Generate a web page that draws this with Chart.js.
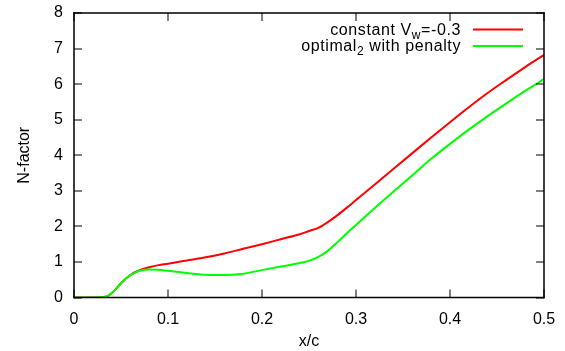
<!DOCTYPE html>
<html>
<head>
<meta charset="utf-8">
<script src="https://cdn.jsdelivr.net/npm/chart.js@4/dist/chart.umd.min.js"></script>
<style>
  html, body { margin: 0; padding: 0; background: #fff; overflow: hidden; }
  canvas { display: block; }
</style>
</head>
<body>
<canvas id="nplot" width="565" height="351"></canvas>
<script>
// x/c stations
const xc = [0, 0.02, 0.03, 0.035, 0.04, 0.045, 0.05, 0.055, 0.06, 0.065, 0.07, 0.08, 0.09, 0.1,
            0.12, 0.14, 0.16, 0.18, 0.2, 0.22, 0.24, 0.25, 0.26, 0.27, 0.28, 0.29, 0.3,
            0.32, 0.34, 0.36, 0.38, 0.4, 0.42, 0.44, 0.46, 0.48, 0.5];
// constant Vw=-0.3
const nConst = [0, 0, 0.01, 0.03, 0.12, 0.25, 0.4, 0.53, 0.63, 0.71, 0.77, 0.85, 0.91, 0.95,
                1.04, 1.13, 1.24, 1.37, 1.5, 1.64, 1.78, 1.87, 1.96, 2.12, 2.31, 2.52, 2.74,
                3.18, 3.62, 4.06, 4.5, 4.93, 5.35, 5.75, 6.12, 6.48, 6.82];
// optimal2 with penalty
const nOpt = [0, 0, 0.01, 0.03, 0.12, 0.25, 0.4, 0.53, 0.63, 0.7, 0.75, 0.79, 0.78, 0.75,
              0.69, 0.64, 0.63, 0.67, 0.77, 0.87, 0.97, 1.03, 1.14, 1.31, 1.55, 1.8, 2.04,
              2.52, 2.98, 3.44, 3.9, 4.32, 4.72, 5.1, 5.46, 5.81, 6.14];
const xTicks = [0, 0.1, 0.2, 0.3, 0.4, 0.5];
const yTicks = [0, 1, 2, 3, 4, 5, 6, 7, 8];

const FONT = 'Liberation Sans, Arial, sans-serif';

function pts(ys) {
  return xc.map((x, i) => ({ x: x, y: ys[i] }));
}

// no label overhang, so the layout padding alone places the plot box
function noOverhang(s) {
  s.paddingTop = 0; s.paddingBottom = 0; s.paddingLeft = 0; s.paddingRight = 0;
}

// gnuplot style frame: box border + inward ticks + legend with subscripts
const framePlugin = {
  id: 'frame',
  afterDraw(chart) {
    const ctx = chart.ctx;
    const xs = chart.scales.x, ys = chart.scales.y;
    const L = xs.getPixelForValue(0), R = xs.getPixelForValue(0.5);
    const B = ys.getPixelForValue(0), T = ys.getPixelForValue(8);
    const tl = 8;
    ctx.save();
    ctx.fillStyle = '#000';
    // frame
    ctx.fillRect(L - 0.75, T - 0.75, R - L + 1.5, 1.5);
    ctx.fillRect(L - 0.75, B - 0.75, R - L + 1.5, 1.5);
    ctx.fillRect(L - 0.75, T - 0.75, 1.5, B - T + 1.5);
    ctx.fillRect(R - 0.75, T - 0.75, 1.5, B - T + 1.5);
    // inward ticks
    xTicks.forEach(v => {
      const px = Math.round(xs.getPixelForValue(v));
      ctx.fillRect(px - 0.5, B - tl, 1, tl);
      ctx.fillRect(px - 0.5, T, 1, tl);
    });
    yTicks.forEach(v => {
      const py = Math.round(ys.getPixelForValue(v));
      ctx.fillRect(L, py - 0.5, tl, 1);
      ctx.fillRect(R - tl, py - 0.5, tl, 1);
    });

    // legend
    const rows = [
      { parts: [['constant V', 0], ['w', 1], ['=-0.3', 0]], color: '#ff0000', y: 34.5, ly: 29.5 },
      { parts: [['optimal', 0], ['2', 1], [' with penalty', 0]], color: '#00ff00', y: 50.5, ly: 46 }
    ];
    const textRight = 461;
    ctx.textBaseline = 'alphabetic';
    ctx.textAlign = 'left';
    ctx.letterSpacing = '0.6px';
    rows.forEach(r => {
      let w = 0;
      r.parts.forEach(p => {
        ctx.font = (p[1] ? '12px ' : '16px ') + FONT;
        w += ctx.measureText(p[0]).width;
      });
      let x = textRight - w;
      r.parts.forEach(p => {
        ctx.font = (p[1] ? '12px ' : '16px ') + FONT;
        ctx.fillText(p[0], x, r.y + (p[1] ? 4 : 0));
        x += ctx.measureText(p[0]).width;
      });
      ctx.fillStyle = r.color;
      ctx.fillRect(473, r.ly - 1, 50, 2);
      ctx.fillStyle = '#000';
    });
    ctx.restore();
  }
};

new Chart(document.getElementById('nplot'), {
  type: 'line',
  data: {
    datasets: [
      {
        label: 'constant Vw=-0.3',
        data: pts(nConst),
        borderColor: '#ff0000',
        borderWidth: 2,
        pointRadius: 0,
        cubicInterpolationMode: 'monotone',
        order: 1
      },
      {
        label: 'optimal2 with penalty',
        data: pts(nOpt),
        borderColor: '#00ff00',
        borderWidth: 2,
        pointRadius: 0,
        cubicInterpolationMode: 'monotone',
        order: 0
      }
    ]
  },
  options: {
    responsive: false,
    animation: false,
    layout: { padding: { left: 15, right: 21, top: 13, bottom: 0 } },
    plugins: {
      legend: { display: false },
      tooltip: { enabled: false }
    },
    scales: {
      x: {
        type: 'linear',
        min: 0,
        max: 0.5,
        grid: { display: false, drawTicks: false },
        border: { display: false },
        afterBuildTicks: s => { s.ticks = xTicks.map(v => ({ value: v })); },
        afterFit: s => { s.height = 53.5; noOverhang(s); },
        ticks: {
          color: '#000',
          padding: 12,
          maxRotation: 0,
          font: { family: FONT, size: 16 },
          callback: v => String(v)
        },
        title: { display: true, text: 'x/c', color: '#000', padding: 0, font: { family: FONT, size: 16 } }
      },
      y: {
        min: 0,
        max: 8,
        grid: { display: false, drawTicks: false },
        border: { display: false },
        afterBuildTicks: s => { s.ticks = yTicks.map(v => ({ value: v })); },
        afterFit: s => { s.width = 59; noOverhang(s); },
        ticks: {
          color: '#000',
          padding: 11,
          font: { family: FONT, size: 16 }
        },
        title: { display: true, text: 'N-factor', color: '#000', padding: 0, font: { family: FONT, size: 16 } }
      }
    }
  },
  plugins: [framePlugin]
});
</script>
</body>
</html>
